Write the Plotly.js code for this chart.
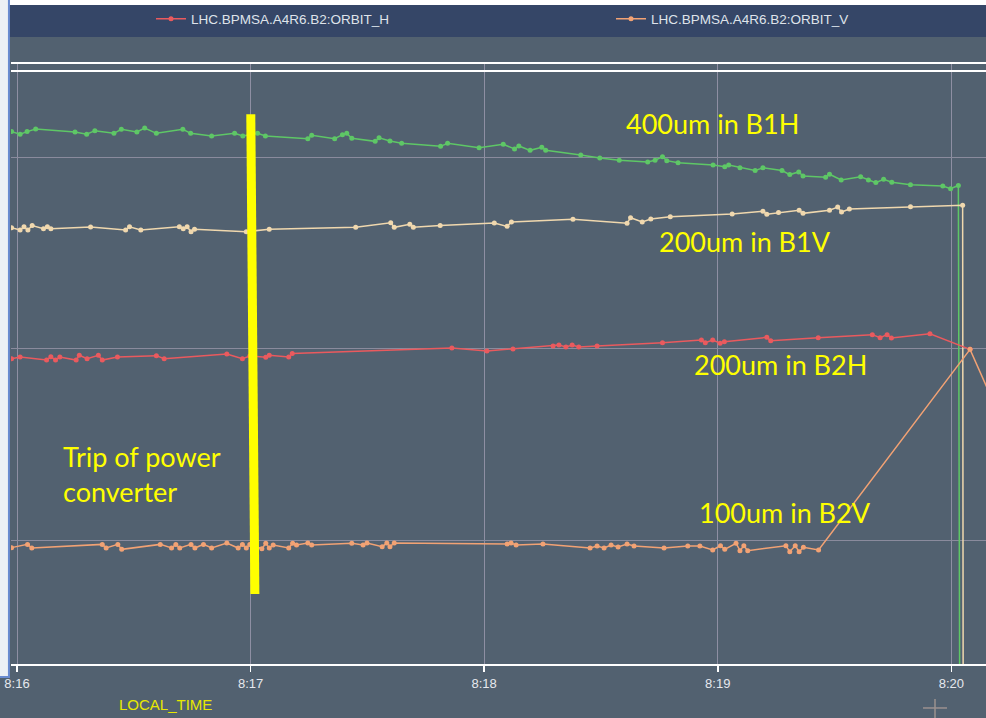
<!DOCTYPE html>
<html><head><meta charset="utf-8">
<script src="https://cdn.plot.ly/plotly-3.0.1.min.js"></script>
<style>html,body{margin:0;padding:0;background:#526170;overflow:hidden}#chart{width:986px;height:718px}</style>
</head><body><div id="chart"></div>
<script>
// Seconds after 08:16:00 and orbit readings (arbitrary units, gridlines every 100)
const B1H_t = [-1.4,0.8,2.6,4.8,14.9,17.9,20.0,24.9,26.8,30.8,32.8,35.8,42.6,44.6,50.0,55.9,58.0,61.8,63.8,74.7,75.7,81.6,83.6,84.7,86.0,92.0,93.0,95.8,98.8,108.8,110.6,118.7,124.9,127.8,128.9,131.8,134.8,135.8,144.8,149.7,154.7,162.0,163.9,165.8,166.9,169.8,178.8,181.8,182.8,185.7,189.6,191.6,196.5,198.5,200.8,201.9,207.7,208.7,211.7,216.7,218.7,220.6,222.6,224.7,229.5,237.8,239.8,241.8,242.3];
const B1H_v = [213.8,212.4,213.8,215.2,213.6,212.4,214.3,212.9,215.0,213.6,215.7,212.9,215.0,212.9,211.5,212.9,211.5,212.9,211.5,210.1,211.9,210.1,212.2,212.9,210.3,208.7,210.6,208.9,207.7,206.1,207.7,205.4,207.2,204.7,206.3,204.0,205.6,204.0,201.6,200.0,198.8,197.9,198.8,200.7,198.6,197.5,196.3,195.4,196.3,194.9,193.4,194.9,193.4,191.3,192.7,190.6,189.9,191.5,188.5,190.2,188.5,187.1,188.8,187.3,186.0,185.3,183.9,185.6,-200];

const B1V_t = [-1.4,0.8,1.8,2.8,3.9,6.8,7.8,8.7,18.9,27.9,28.9,31.8,41.7,42.7,43.7,44.7,45.6,58.9,64.8,87.0,96.0,96.9,100.9,101.8,108.7,122.6,125.9,127.0,142.8,156.7,157.6,160.6,162.8,167.8,183.7,191.6,192.6,195.6,200.9,201.9,208.7,210.8,211.8,213.8,229.5,242.9,243.1];
const B1V_v = [163.5,162.3,164.0,162.3,164.6,163.0,164.0,163.0,163.9,162.3,164.0,162.3,164.0,163.0,164.0,161.4,162.7,161.4,162.7,163.7,166.1,163.7,165.3,163.7,164.6,166.0,164.2,166.5,167.9,165.8,168.7,166.5,168.0,169.2,170.7,172.1,170.5,171.4,172.6,171.0,172.6,174.3,171.7,173.3,174.5,175.2,-200];

const B2H_t = [-1.4,0.8,7.6,8.7,9.9,11.0,15.2,16.0,18.0,20.9,21.9,25.8,35.8,37.8,53.9,57.9,59.8,63.9,64.8,69.8,70.7,111.7,120.7,127.4,137.7,139.2,141.0,142.6,144.3,149.0,165.8,175.8,176.8,178.7,180.6,181.7,192.6,193.6,205.8,219.7,221.7,223.5,224.6,234.5,244.8];
const B2H_v = [94.9,95.8,94.2,96.0,94.2,95.8,94.2,96.7,94.9,96.7,94.2,95.8,96.5,94.9,97.4,94.9,96.3,95.7,96.7,95.8,97.7,100.5,99.0,100.0,101.6,102.1,101.0,102.1,101.0,101.6,103.3,104.7,103.3,104.7,103.0,103.8,106.1,104.3,105.9,107.5,105.9,107.5,105.8,108.0,99.8];

const B2V_t = [-1.4,2.7,3.8,21.9,22.9,25.9,26.9,36.8,39.7,40.8,41.8,44.7,45.7,47.9,50.0,53.9,56.8,57.9,58.9,59.8,62.9,63.9,64.8,65.8,69.8,70.8,71.8,74.7,75.7,86.0,88.9,89.9,93.8,95.0,95.8,96.9,125.9,126.9,128.2,135.1,147.2,149.0,150.8,152.6,154.4,156.7,158.5,166.2,172.3,175.4,178.7,180.7,181.8,184.7,185.7,186.7,187.7,197.5,198.5,199.9,200.9,202.0,205.9,244.8,249.9];
const B2V_v = [-4.0,-2.3,-4.2,-2.3,-4.2,-2.3,-4.9,-2.3,-4.2,-2.3,-4.2,-2.3,-4.2,-2.3,-4.2,-1.6,-4.2,-2.3,-4.2,-2.3,-4.6,-1.7,-4.2,-2.6,-4.2,-1.7,-2.6,-1.6,-2.6,-1.7,-2.6,-1.6,-3.5,-1.6,-3.5,-1.6,-2.1,-1.6,-2.6,-2.1,-4.2,-3.1,-4.2,-2.6,-3.7,-2.1,-3.1,-4.2,-3.1,-3.1,-5.2,-3.0,-4.9,-1.7,-5.6,-3.0,-5.6,-3.0,-6.1,-3.0,-6.1,-3.8,-5.2,99.8,76.4];

const tickLabels = ['8:16','8:17','8:18','8:19','8:20'];
const legendNames = ['LHC.BPMSA.A4R6.B2:ORBIT_H','LHC.BPMSA.A4R6.B2:ORBIT_V'];

function t(s){
  const tot = 16*60 + s;
  const m = Math.floor(tot/60);
  const sec = tot - m*60;
  return '2018-01-01 08:' + String(m).padStart(2,'0') + ':' + sec.toFixed(2).padStart(5,'0');
}
const T = a => a.map(t);

function tr(tt, vv, color, name, show, leg){
  const o = {type:'scatter', mode:'lines+markers', x:T(tt), y:vv, name:name, showlegend:show,
    line:{color:color, width:1.5}, marker:{color:color, size:5}, hoverinfo:'skip'};
  if (leg) o.legend = leg;
  return o;
}
const data = [
  tr(B1H_t, B1H_v, '#5ec766', 'B1H', false),
  tr(B1V_t, B1V_v, '#f0d8ae', 'B1V', false),
  tr(B2H_t, B2H_v, '#ea5a5e', legendNames[0], true, 'legend'),
  tr(B2V_t, B2V_v, '#f2a274', legendNames[1], true, 'legend2')
];

const yel = '#ffff00';
const afont = {family:'Lato, "Open Sans", sans-serif', size:27, color:yel};
function lab(text, x, y){ return {text:text, x:x, y:y, xref:'paper', yref:'paper', xanchor:'left', yanchor:'middle', showarrow:false, font:afont, align:'left'}; }
const legFont = {size:13.5, color:'#dfe3ea'};

const layout = {
  width:986, height:718,
  margin:{l:11, r:0, t:64, b:54, pad:0, autoexpand:false},
  paper_bgcolor:'#526170', plot_bgcolor:'#526170',
  font:{family:'"Liberation Sans", sans-serif', color:'#e6e8ee'},
  xaxis:{type:'date', range:[t(-1.54), t(248.9)],
    tickmode:'array', tickvals:[t(0),t(60),t(120),t(180),t(240)], ticktext:tickLabels,
    showgrid:true, gridcolor:'#8e8fa3', gridwidth:1, zeroline:false,
    showline:true, linecolor:'#ffffff', linewidth:2, mirror:true,
    ticks:'outside', ticklen:6, tickcolor:'#ffffff', tickwidth:1.5,
    tickfont:{size:13, color:'#e6e8ee'}},
  yaxis:{range:[-64.92, 249.2], dtick:100, tick0:0, showticklabels:false, ticks:'',
    showgrid:true, gridcolor:'#8a8b9d', gridwidth:1, zeroline:false, showline:false},
  showlegend:true,
  legend:{orientation:'h', x:0.1436, xanchor:'left', y:1.075, yanchor:'middle',
    bgcolor:'rgba(0,0,0,0)', font:legFont, itemwidth:30},
  legend2:{orientation:'h', x:0.6154, xanchor:'left', y:1.075, yanchor:'middle',
    bgcolor:'rgba(0,0,0,0)', font:legFont, itemwidth:30},
  shapes:[
    {type:'rect', xref:'paper', yref:'paper', x0:-0.02, x1:1.02, y0:1.0983, y1:1.2, fillcolor:'#ffffff', line:{width:0}, layer:'below'},
    {type:'rect', xref:'paper', yref:'paper', x0:-0.02, x1:1.02, y0:1.045, y1:1.0983, fillcolor:'#354667', line:{width:0}, layer:'below'},
    {type:'rect', xref:'paper', yref:'paper', x0:-0.02, x1:-0.0021, y0:-0.0217, y1:1.2, fillcolor:'#edf0f5', line:{color:'#6a8bd0', width:2}, layer:'above'},
    {type:'line', xref:'paper', yref:'paper', x0:0, x1:1, y0:0.9883, y1:0.9883, line:{color:'#ffffff', width:2}},
    {type:'line', xref:'x', yref:'y', x0:t(60.05), x1:t(61.1), y0:222.9, y1:-28.3, line:{color:yel, width:9}},
    {type:'line', xref:'paper', yref:'paper', x0:0.9477, x1:0.9477, y0:-0.0583, y1:-0.095, line:{color:'#9b918f', width:1.5}},
    {type:'line', xref:'paper', yref:'paper', x0:0.9354, x1:0.96, y0:-0.0733, y1:-0.0733, line:{color:'#9b918f', width:1.5}}
  ],
  annotations:[
    lab('400um in B1H', 0.6287, 0.9),
    lab('200um in B1V', 0.6626, 0.705),
    lab('200um in B2H', 0.6985, 0.5),
    lab('100um in B2V', 0.7036, 0.2533),
    lab('Trip of power<br>converter', 0.0513, 0.3167),
    {text:'LOCAL_TIME', x:0.158, y:-0.0667, xref:'paper', yref:'paper', xanchor:'center', yanchor:'middle', showarrow:false,
      font:{size:15, color:'#e8e800'}}
  ]
};
Plotly.newPlot('chart', data, layout, {displayModeBar:false, staticPlot:true});
</script></body></html>
